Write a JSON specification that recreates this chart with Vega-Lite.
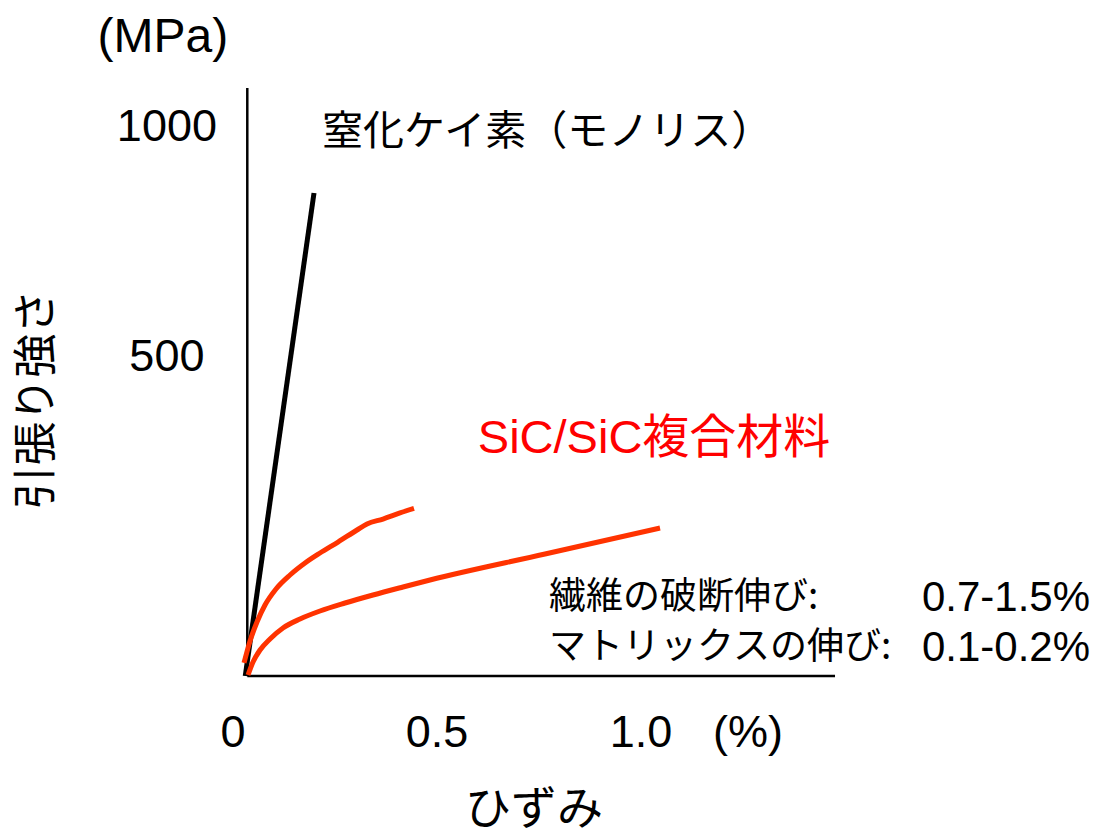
{
  "$schema": "https://vega.github.io/schema/vega-lite/v6.json",
  "width": 1097,
  "height": 834,
  "autosize": {"type": "fit", "contains": "padding"},
  "padding": 0,
  "background": "white",
  "config": {"view": {"stroke": null}, "font": "Liberation Sans, Noto Sans CJK JP"},
  "datasets": {
    "axes": [
      {"axis": "y", "x": 0.035, "y": -193.5, "x2": 0.035, "y2": 1085},
      {"axis": "x", "x": 0.035, "y": -193.5, "x2": 1.4755, "y2": -193.5}
    ],
    "curves": [
      {"material": "窒化ケイ素", "strain": 0.030, "stress": -193.5},
      {"material": "窒化ケイ素", "strain": 0.1985, "stress": 856.5},
      {"material": "SiC/SiC A", "strain": 0.0270, "stress": -165.2},
      {"material": "SiC/SiC A", "strain": 0.0417, "stress": -117.4},
      {"material": "SiC/SiC A", "strain": 0.0588, "stress": -76.1},
      {"material": "SiC/SiC A", "strain": 0.0784, "stress": -39.1},
      {"material": "SiC/SiC A", "strain": 0.1054, "stress": -4.3},
      {"material": "SiC/SiC A", "strain": 0.1397, "stress": 26.1},
      {"material": "SiC/SiC A", "strain": 0.1765, "stress": 52.2},
      {"material": "SiC/SiC A", "strain": 0.2132, "stress": 73.9},
      {"material": "SiC/SiC A", "strain": 0.2574, "stress": 97.8},
      {"material": "SiC/SiC A", "strain": 0.3039, "stress": 123.9},
      {"material": "SiC/SiC A", "strain": 0.3284, "stress": 137.0},
      {"material": "SiC/SiC A", "strain": 0.3676, "stress": 147.8},
      {"material": "SiC/SiC A", "strain": 0.4093, "stress": 160.9},
      {"material": "SiC/SiC A", "strain": 0.4436, "stress": 170.7},
      {"material": "SiC/SiC B", "strain": 0.0368, "stress": -191.3},
      {"material": "SiC/SiC B", "strain": 0.0490, "stress": -163.0},
      {"material": "SiC/SiC B", "strain": 0.0662, "stress": -137.0},
      {"material": "SiC/SiC B", "strain": 0.0907, "stress": -113.0},
      {"material": "SiC/SiC B", "strain": 0.1225, "stress": -89.1},
      {"material": "SiC/SiC B", "strain": 0.1642, "stress": -69.6},
      {"material": "SiC/SiC B", "strain": 0.2132, "stress": -52.2},
      {"material": "SiC/SiC B", "strain": 0.2745, "stress": -34.8},
      {"material": "SiC/SiC B", "strain": 0.3431, "stress": -17.4},
      {"material": "SiC/SiC B", "strain": 0.4167, "stress": 0.0},
      {"material": "SiC/SiC B", "strain": 0.4828, "stress": 15.2},
      {"material": "SiC/SiC B", "strain": 0.7647, "stress": 71.7},
      {"material": "SiC/SiC B", "strain": 1.0466, "stress": 128.3}
    ],
    "labels": [
      {"role": "unit", "text": "(MPa)", "x": -0.172, "y": 1193},
      {"role": "ytick", "text": "1000", "x": -0.162, "y": 1000},
      {"role": "ytick", "text": "500", "x": -0.162, "y": 500},
      {"role": "xtick", "text": "0", "x": 0, "y": -317},
      {"role": "xtick", "text": "0.5", "x": 0.5, "y": -317},
      {"role": "xtick", "text": "1.0", "x": 1.0, "y": -317},
      {"role": "xtick", "text": "(%)", "x": 1.262, "y": -317},
      {"role": "xtitle", "text": "ひずみ", "x": 0.738, "y": -485},
      {"role": "ytitle", "text": "引張り強さ", "x": -0.478, "y": 407},
      {"role": "mono", "text": "窒化ケイ素（モノリス）", "x": 0.218, "y": 987},
      {"role": "composite", "text": "SiC/SiC複合材料", "x": 0.6, "y": 322},
      {"role": "note", "text": "繊維の破断伸び:", "x": 0.7745, "y": -24},
      {"role": "note", "text": "マトリックスの伸び:", "x": 0.7745, "y": -133},
      {"role": "noteval", "text": "0.7-1.5%", "x": 2.1005, "y": -24},
      {"role": "noteval", "text": "0.1-0.2%", "x": 2.1005, "y": -133}
    ]
  },
  "layer": [
    {
      "data": {"name": "axes"},
      "mark": {"type": "rule", "color": "black", "strokeWidth": 2.5},
      "encoding": {
        "x": {"field": "x", "type": "quantitative", "scale": {"domain": [-0.5711, 2.1176], "nice": false, "zero": false}, "axis": null},
        "y": {"field": "y", "type": "quantitative", "scale": {"domain": [-536.96, 1276.09], "nice": false, "zero": false}, "axis": null},
        "x2": {"field": "x2"},
        "y2": {"field": "y2"}
      }
    },
    {
      "data": {"name": "curves"},
      "transform": [{"filter": "datum.material === '窒化ケイ素'"}],
      "mark": {"type": "line", "color": "black", "strokeWidth": 5},
      "encoding": {
        "x": {"field": "strain", "type": "quantitative"},
        "y": {"field": "stress", "type": "quantitative"}
      }
    },
    {
      "data": {"name": "curves"},
      "transform": [{"filter": "datum.material !== '窒化ケイ素'"}],
      "mark": {"type": "line", "color": "#ff3300", "strokeWidth": 5, "interpolate": "monotone", "strokeCap": "butt"},
      "encoding": {
        "x": {"field": "strain", "type": "quantitative"},
        "y": {"field": "stress", "type": "quantitative"},
        "detail": {"field": "material"}
      }
    },
    {
      "data": {"name": "labels"},
      "transform": [{"filter": "datum.role === 'unit'"}],
      "mark": {"type": "text", "fontSize": 48, "align": "center", "baseline": "middle", "color": "black", "font": "Liberation Sans"},
      "encoding": {
        "x": {"field": "x", "type": "quantitative"},
        "y": {"field": "y", "type": "quantitative"},
        "text": {"field": "text"}
      }
    },
    {
      "data": {"name": "labels"},
      "transform": [{"filter": "datum.role === 'ytick' || datum.role === 'xtick'"}],
      "mark": {"type": "text", "fontSize": 45, "align": "center", "baseline": "middle", "color": "black", "font": "Liberation Sans"},
      "encoding": {
        "x": {"field": "x", "type": "quantitative"},
        "y": {"field": "y", "type": "quantitative"},
        "text": {"field": "text"}
      }
    },
    {
      "data": {"name": "labels"},
      "transform": [{"filter": "datum.role === 'xtitle'"}],
      "mark": {"type": "text", "fontSize": 46, "align": "center", "baseline": "middle", "color": "black", "font": "Noto Sans CJK JP"},
      "encoding": {
        "x": {"field": "x", "type": "quantitative"},
        "y": {"field": "y", "type": "quantitative"},
        "text": {"field": "text"}
      }
    },
    {
      "data": {"name": "labels"},
      "transform": [{"filter": "datum.role === 'ytitle'"}],
      "mark": {"type": "text", "fontSize": 44, "align": "center", "baseline": "middle", "angle": 270, "color": "black", "font": "Noto Sans CJK JP"},
      "encoding": {
        "x": {"field": "x", "type": "quantitative"},
        "y": {"field": "y", "type": "quantitative"},
        "text": {"field": "text"}
      }
    },
    {
      "data": {"name": "labels"},
      "transform": [{"filter": "datum.role === 'mono'"}],
      "mark": {"type": "text", "fontSize": 41, "align": "left", "baseline": "middle", "color": "black", "font": "Noto Sans CJK JP"},
      "encoding": {
        "x": {"field": "x", "type": "quantitative"},
        "y": {"field": "y", "type": "quantitative"},
        "text": {"field": "text"}
      }
    },
    {
      "data": {"name": "labels"},
      "transform": [{"filter": "datum.role === 'composite'"}],
      "mark": {"type": "text", "fontSize": 47, "align": "left", "baseline": "middle", "color": "#ff0000", "font": "Liberation Sans, Noto Sans CJK JP"},
      "encoding": {
        "x": {"field": "x", "type": "quantitative"},
        "y": {"field": "y", "type": "quantitative"},
        "text": {"field": "text"}
      }
    },
    {
      "data": {"name": "labels"},
      "transform": [{"filter": "datum.role === 'note'"}],
      "mark": {"type": "text", "fontSize": 37, "align": "left", "baseline": "middle", "color": "black", "font": "Noto Sans CJK JP"},
      "encoding": {
        "x": {"field": "x", "type": "quantitative"},
        "y": {"field": "y", "type": "quantitative"},
        "text": {"field": "text"}
      }
    },
    {
      "data": {"name": "labels"},
      "transform": [{"filter": "datum.role === 'noteval'"}],
      "mark": {"type": "text", "fontSize": 42, "align": "right", "baseline": "middle", "color": "black", "font": "Liberation Sans"},
      "encoding": {
        "x": {"field": "x", "type": "quantitative"},
        "y": {"field": "y", "type": "quantitative"},
        "text": {"field": "text"}
      }
    }
  ]
}
